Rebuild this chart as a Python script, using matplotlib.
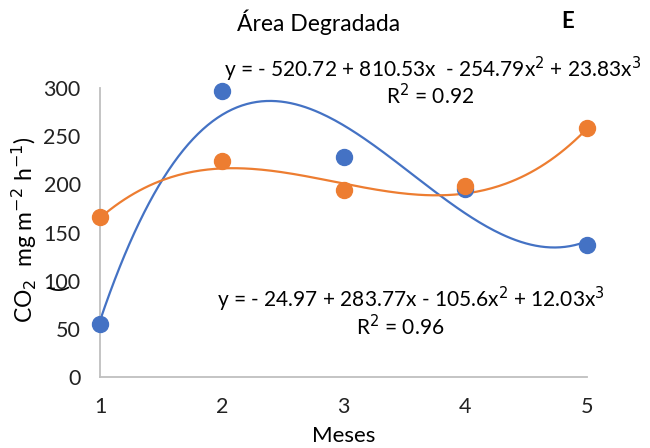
import numpy as np
import matplotlib.pyplot as plt

plt.rcParams['font.family'] = ['Lato', 'DejaVu Sans']

# data
meses = [1, 2, 3, 4, 5]
co2_azul = [55, 297, 228, 195, 137]
co2_laranja = [166, 224, 194, 198, 258]

# cubic trendline coefficients (c0, c1, c2, c3) as printed on the chart
coef_azul = [-520.72, 810.53, -254.79, 23.83]
coef_laranja = [-24.97, 283.77, -105.6, 12.03]

yticks = [0, 50, 100, 150, 200, 250, 300]

blue = "#4472C4"
orange = "#ED7D31"

fig = plt.figure(figsize=(6.5, 4.48), dpi=100)
ax = fig.add_axes([0.154, 0.158, 0.749, 0.646])

xs = np.linspace(1, 5, 200)
for coef, c in [(coef_azul, blue), (coef_laranja, orange)]:
    ys = np.polynomial.polynomial.polyval(xs, coef)
    ax.plot(xs, ys, color=c, lw=1.6, clip_on=False)

ax.plot(meses, co2_azul, "o", color=blue, ms=11.5, clip_on=False, zorder=3)
ax.plot(meses, co2_laranja, "o", color=orange, ms=11.5, clip_on=False, zorder=3)

ax.set_xlim(1, 5)
ax.set_ylim(0, 300)
ax.set_xticks(meses)
ax.set_yticks(yticks)
ax.tick_params(length=0, labelsize=15.5, colors="#222222")
ax.tick_params(axis="x", pad=14)
ax.tick_params(axis="y", pad=14)
for s in ["top", "right"]:
    ax.spines[s].set_visible(False)
for s in ["left", "bottom"]:
    ax.spines[s].set_color("#BFBFBF")
    ax.spines[s].set_linewidth(1.3)

ax.set_xlabel("Meses", fontsize=16, labelpad=7)

# y label (wrapped like the original)
fig.text(0.038, 0.487, r"CO$_{2}$  mg m$^{-2}$ h$^{-1}$)", rotation=90,
         fontsize=16.5, ha="center", va="center")
fig.text(0.09, 0.36, "(", rotation=90, fontsize=16.5, ha="center", va="center")

fig.text(0.49, 0.951, "Área Degradada", fontsize=16.5, ha="center", va="center")
fig.text(0.874, 0.951, "E", fontsize=16, fontweight="bold", ha="center", va="center")

fig.text(0.666, 0.846, r"y = - 520.72 + 810.53x  - 254.79x$^{2}$ + 23.83x$^{3}$",
         fontsize=15, ha="center", va="center")
fig.text(0.662, 0.786, r"R$^{2}$ = 0.92", fontsize=15, ha="center", va="center")

fig.text(0.632, 0.332, r"y = - 24.97 + 283.77x - 105.6x$^{2}$ + 12.03x$^{3}$",
         fontsize=15, ha="center", va="center")
fig.text(0.615, 0.27, r"R$^{2}$ = 0.96", fontsize=15, ha="center", va="center")

fig.savefig("out.png", dpi=100)
